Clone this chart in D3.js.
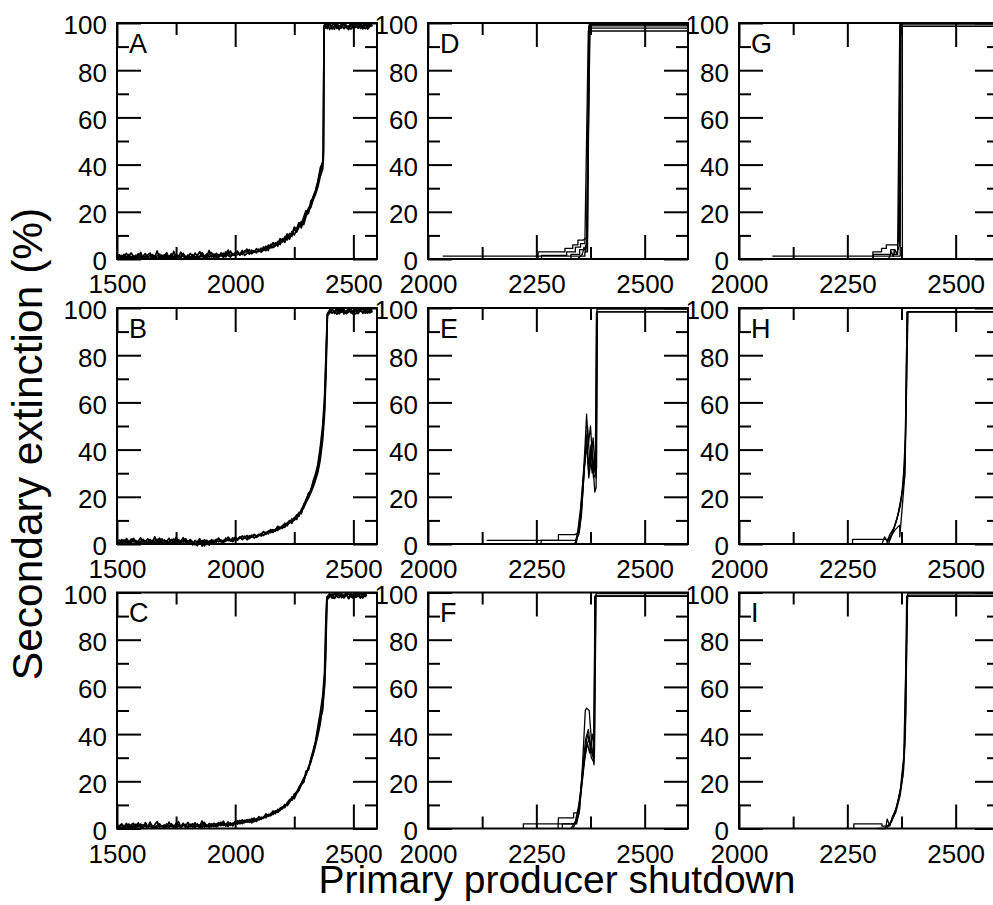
<!DOCTYPE html>
<html>
<head>
<meta charset="utf-8">
<script src="https://cdn.jsdelivr.net/npm/d3@7"></script>
<style>
  body { margin: 0; background: #fff; }
  text { font-family: "Liberation Sans", Arial, Helvetica, sans-serif; }
</style>
</head>
<body>
<div id="chart-area"></div>
<script>
const WIDTH = 993
const HEIGHT = 905
const COLS = [117, 428, 739]   // left edge of each column of panels
const ROWS = [23, 308, 592.5]  // top edge of each row of panels
const PW = 260
const PH = 236
const FONT = "'Liberation Sans', Arial, Helvetica, sans-serif"

// ---------- data ----------
const yMajor = [0, 20, 40, 60, 80, 100]
const yMinor = [10, 30, 50, 70, 90]

// shared x grid for the low (noisy) part of panels A-C
const lowXs = [1500,1510,1520,1530,1540,1550,1560,1570,1580,1590,
               1600,1610,1620,1630,1640,1650,1660,1670,1680,1690,
               1700,1710,1720,1730,1740,1750,1760,1770,1780,1790,
               1800,1810,1820,1830,1840,1850,1860,1870,1880,1890,
               1900,1910,1920,1930,1940,1950,1960,1970,1980,1990,
               2000,2010,2020,2030,2040,2050,2060,2070,2080,2090,
               2100,2110,2120,2130,2140,2150,2160,2170,2180,2190,
               2200,2210,2220,2230,2240,2250,2260,2270,2280,2290,
               2300,2310,2320,2330,2340,2350,2360]
const tailXsA = [2370,2373,2376,
                 2380,2390,2400,2410,2420,2430,2440,2450,2460,2470,
                 2480,2490,2500,2510,2520,2530,2540,2550,2560,2570,2580]
const tailXsB = [2370,2378,2384,2390,
                 2400,2410,2420,2430,2440,2450,2460,2470,2480,2490,
                 2500,2510,2520,2530,2540,2550,2560,2570,2580]
const tailXsC = [2370,2378,2383,2388,
                 2400,2410,2420,2430,2440,2450,2460,2470,2480,2490,
                 2500,2510,2520,2530,2540,2550,2556]

const runsA = [
  [0.6,1.8,0.2,1.1,2.4,0.4,0.9,0.1,1.6,0.5,
   2.8,0.3,1.2,0.7,0.0,1.9,0.8,3.4,0.4,1.0,
   0.2,1.5,0.9,2.2,0.3,1.1,0.6,2.9,1.0,0.4,
   1.7,0.8,0.2,2.5,1.3,0.6,1.9,0.3,1.2,3.6,
   0.9,2.1,1.4,0.5,2.6,1.1,3.0,1.6,0.8,2.3,
   1.4,2.9,1.9,3.6,1.5,2.4,4.0,2.2,3.1,2.6,
   4.2,2.9,3.8,5.4,3.6,6.2,4.8,5.6,7.4,6.1,
   8.6,7.0,9.8,8.4,11.6,10.2,12.4,14.8,13.2,16.5,
   19,21.5,23,26.5,29,32.5,37,
   40,44,98,
   99.4,97.6,99.8,98.2,97.4,99.6,98.8,97.9,100,98.4,
   97.2,99.3,98.6,99.9,97.8,98.9,97.5,99.5,98.2,99.7,98.6],
  [1.4,0.3,0.8,2.0,0.5,1.2,2.6,0.7,0.2,1.5,
   0.6,1.1,2.3,0.4,1.6,0.9,0.3,1.3,2.1,0.6,
   1.8,0.5,1.2,0.2,3.2,0.8,1.5,0.4,1.9,1.1,
   0.5,2.4,1.0,0.7,1.5,3.1,0.9,1.4,0.6,1.8,
   2.7,1.2,0.8,1.9,1.3,2.5,0.9,2.2,3.3,1.5,
   2.6,1.8,2.3,1.9,3.4,2.8,2.1,3.7,2.9,4.4,
   3.1,4.6,4.0,3.5,5.9,4.7,5.2,6.8,5.5,7.9,
   7.2,9.4,8.1,10.8,9.6,12.9,11.4,13.6,15.9,14.6,
   18.2,20.4,21.8,25.2,27.4,30.6,35,
   38,42,97.5,
   98.6,99.7,97.3,98.9,99.8,97.7,98.4,99.5,97.6,99.1,
   98.0,97.4,99.6,98.7,97.9,99.8,98.3,97.6,99.2,98.8,99.4],
  [0.2,0.9,1.5,0.4,0.8,1.9,0.3,1.4,0.6,2.2,
   1.0,0.5,0.1,1.7,2.5,0.6,1.4,0.2,0.9,1.6,
   0.7,2.7,0.4,1.3,0.9,2.0,0.3,1.2,2.4,0.6,
   1.1,0.3,1.8,0.9,0.4,1.2,2.7,1.0,2.1,0.7,
   1.5,0.6,2.4,1.2,1.8,0.7,1.9,3.8,1.3,1.7,
   2.0,3.3,1.6,2.5,2.9,4.2,2.4,2.7,3.5,3.0,
   3.6,3.2,5.1,4.4,4.9,5.3,6.9,5.9,6.4,8.6,
   7.8,8.5,10.6,9.3,10.4,13.5,12.8,15.4,14.2,17.8,
   20.5,19.2,24.6,26,28.8,33,38.5,
   41,46,99,
   97.8,98.5,99.9,97.5,98.7,99.3,97.2,98.8,99.6,97.9,
   98.6,99.8,97.6,98.3,99.5,97.7,98.9,99.7,97.4,98.5,99.0]
]

const runsB = [
  [0.4,1.6,0.9,0.2,2.3,1.1,0.5,1.8,0.3,1.2,
   2.6,0.7,1.4,0.1,1.9,0.8,3.0,0.6,1.3,0.2,
   1.7,0.9,2.4,0.4,1.1,0.0,1.8,1.2,2.7,0.5,
   1.3,0.6,-0.4,1.5,0.8,2.2,-0.9,0.7,1.6,-0.5,
   1.1,0.3,2.0,0.9,1.7,0.6,2.5,1.4,1.9,1.0,
   2.4,1.6,2.9,2.1,3.3,1.8,2.7,3.8,2.5,3.2,
   4.1,3.4,3.9,5.0,4.3,5.6,4.9,6.3,5.7,7.1,
   6.6,8.2,7.7,9.5,8.8,11.2,10.4,12.9,13.8,15.3,
   17.6,19.5,21.8,24.2,27.1,30.5,35.8,
   44,55,71,97,
   98.6,99.8,97.7,99.1,98.2,100,97.5,98.9,99.6,97.9,
   98.4,99.7,97.6,99.2,98.1,99.5,97.8,98.8,99.4],
  [1.2,0.3,0.8,1.7,0.5,0.1,1.4,2.4,0.7,1.0,
   0.4,1.8,0.9,2.2,0.6,1.5,0.2,1.1,2.5,0.8,
   1.4,0.3,0.9,1.9,0.6,2.8,0.4,1.3,0.8,1.6,
   0.2,1.9,0.9,0.3,-0.7,1.2,0.5,1.8,-0.2,1.3,
   0.5,1.6,0.8,2.3,1.3,0.7,1.8,2.1,1.2,2.6,
   1.7,2.2,3.0,1.9,2.6,3.6,2.3,3.0,3.9,2.8,
   3.5,4.5,3.7,4.6,5.5,4.8,6.1,5.4,6.9,6.4,
   7.9,7.1,8.9,9.9,9.4,10.7,12.3,11.8,14.6,16.2,
   18.9,20.8,23.1,25.6,28.4,32.4,38.5,
   47,58,76,96.7,
   97.9,99.3,98.5,97.4,99.7,98.2,99.0,97.6,99.8,98.4,
   97.3,99.1,98.7,99.9,97.7,98.5,99.3,97.9,98.9],
  [0.8,0.1,1.9,0.6,1.3,0.4,2.1,0.9,1.5,0.3,
   1.1,2.0,0.4,0.8,1.6,0.3,1.2,1.9,0.5,2.2,
   0.6,1.3,0.2,1.6,2.1,0.7,1.0,0.3,1.5,2.3,
   0.9,1.4,0.5,-0.3,1.1,0.2,1.5,-0.8,0.9,0.4,
   1.8,0.9,1.3,2.5,0.8,1.6,1.1,2.9,1.7,1.4,
   2.9,2.0,2.5,3.4,2.7,2.2,3.5,2.9,4.1,3.4,
   3.9,4.2,5.3,4.1,5.0,6.1,5.5,5.8,7.5,6.8,
   7.4,8.8,8.3,9.1,10.6,10.0,11.7,13.4,12.9,16.8,
   18.1,21.5,22.4,26.7,29.6,33.8,41,
   50,62,80,97.6,
   99.2,97.8,98.6,99.9,97.5,98.8,99.4,97.7,98.3,99.6,
   98.0,97.5,99.3,98.6,99.8,97.8,98.5,99.5,98.1]
]

const runsC = [
  [0.9,0.2,1.5,0.6,2.2,0.4,1.1,0.3,1.8,0.7,
   1.3,0.1,2.5,0.8,1.0,0.4,1.7,2.9,0.6,1.2,
   0.3,1.9,0.8,1.4,0.2,2.3,1.0,0.5,1.6,0.9,
   2.6,0.7,1.3,0.4,1.9,0.9,3.2,0.6,1.4,1.0,
   0.8,2.2,1.5,1.1,2.7,1.3,1.9,0.9,2.4,1.6,
   3.0,1.9,2.6,2.2,3.5,2.7,3.9,2.4,3.3,4.1,
   3.6,4.8,4.3,5.7,5.1,6.4,5.9,7.2,6.8,8.0,
   8.4,9.6,10.3,11.5,12.9,13.7,15.6,16.8,18.4,20.1,
   23.5,25.2,28.9,31.4,35.3,39.6,44.5,
   52,60,72,97.4,
   98.9,97.6,99.7,98.3,97.8,99.5,98.6,99.9,97.5,98.8,
   99.3,97.9,98.5,99.8,97.7,99.1,98.4],
  [1.5,0.6,0.2,1.2,0.8,1.9,0.3,1.4,0.7,2.4,
   0.5,1.6,0.9,0.2,1.8,1.1,0.4,1.3,2.0,0.7,
   1.5,0.6,2.7,0.9,1.2,0.4,1.7,0.8,2.2,0.5,
   1.1,1.8,0.6,2.4,1.0,1.5,0.5,1.9,0.8,2.1,
   1.4,0.9,1.8,2.5,1.2,2.0,1.5,2.8,1.3,2.3,
   2.2,2.8,3.4,2.1,2.9,3.8,2.6,3.2,4.4,3.0,
   4.2,3.9,5.0,4.6,6.0,5.4,6.6,7.5,7.0,8.6,
   9.1,8.8,10.9,12.2,12.0,14.6,15.1,17.5,19.2,21.4,
   22.8,26.1,27.9,32.2,36.4,41.2,46.5,
   50,62,79,96.9,
   98.2,99.4,97.5,98.9,99.8,97.8,98.6,99.2,97.4,99.6,
   98.0,98.7,99.9,97.6,98.4,99.3,98.8],
  [0.3,1.1,2.0,0.5,0.9,0.1,1.6,2.2,0.4,1.0,
   1.9,0.8,1.3,0.5,2.7,0.6,1.1,0.3,1.5,0.9,
   0.7,1.2,0.4,2.0,0.9,1.6,2.9,0.6,1.3,1.8,
   0.4,1.2,2.1,0.8,1.5,0.3,1.7,2.6,1.1,0.6,
   2.0,1.2,0.7,1.9,1.4,3.1,1.0,1.7,2.1,1.1,
   2.6,3.3,2.0,3.7,2.5,3.1,2.8,4.3,2.9,3.7,
   5.0,4.1,4.6,6.2,5.3,5.8,7.4,6.3,8.1,7.6,
   8.8,10.2,9.7,11.0,13.4,12.6,14.9,16.1,18.9,19.6,
   24.4,24.8,29.6,33.1,37,43.2,49,
   56,66,86,98.1,
   99.5,98.0,97.6,99.8,98.5,99.1,97.7,98.9,99.6,98.2,
   97.5,99.4,98.6,97.9,99.7,98.3,99.0]
]

// step-like runs, [shutdown, extinction %]
const runsD = [
  [[2034,1.2],[2362,1.2],[2362,3],[2368,3],[2372,99.3],[2600,99.3]],
  [[2240,0],[2254,0],[2254,3],[2316,3],[2316,4.5],[2334,4.5],[2334,6],[2346,6],[2346,8],[2358,8],[2366,9],[2374,97.8],[2600,97.8]],
  [[2250,0],[2262,0],[2262,1.5],[2320,1.5],[2320,3],[2340,3],[2340,5],[2352,5],[2352,6.5],[2362,6.5],[2370,96.6],[2600,96.6]],
  [[2300,0],[2330,0],[2330,2],[2350,2],[2350,4],[2362,4],[2366,7],[2371,98.8],[2600,98.8]],
  [[2345,0],[2356,2],[2360,5],[2364,3],[2368,9],[2373,99.3],[2600,99.3]]
]
const runsG = [
  [[2077,1.2],[2372,1.2],[2374,98.6],[2600,98.6]],
  [[2300,0],[2309,0],[2309,3],[2329,3],[2329,4.5],[2340,4.5],[2340,6],[2366,6],[2368,8],[2372,98.6],[2600,98.6]],
  [[2270,0],[2310,0],[2310,2],[2350,2],[2350,4],[2358,4],[2358,2],[2366,2],[2371,99.6],[2600,99.6]],
  [[2340,0],[2377,0],[2377,98.6],[2600,98.6]],
  [[2345,0],[2352,3],[2356,1],[2360,4],[2364,2],[2370,6],[2373,99.6],[2600,99.6]]
]
const runsE = [
  [[2135,1.5],[2340,1.5],[2344,3],[2350,8],[2356,22],[2362,40],[2366,55],[2370,42],[2375,50],[2380,35],[2385,22],[2388,24],[2390,98.4],[2600,98.4]],
  [[2260,0],[2262,1.5],[2301,1.5],[2301,4],[2339,4],[2349,5],[2355,16],[2361,32],[2366,46],[2371,30],[2376,42],[2382,28],[2387,30],[2389,98.4],[2600,98.4]],
  [[2335,0],[2340,0],[2346,6],[2352,15],[2358,28],[2364,38],[2368,50],[2373,36],[2378,40],[2383,33],[2388,28],[2390,99.5],[2600,99.5]],
  [[2338,0],[2348,4],[2354,12],[2360,30],[2365,45],[2369,34],[2374,38],[2379,30],[2384,35],[2389,32],[2391,98.4]],
  [[2342,0],[2350,9],[2356,20],[2362,36],[2367,42],[2371,28],[2376,35],[2381,45],[2386,30],[2389,98.4]]
]
const runsH = [
  [[2262,0],[2262,2],[2345,2],[2352,4],[2362,9],[2372,16],[2382,28],[2386,60],[2389,98.4],[2600,98.4]],
  [[2318,0],[2330,0],[2336,3],[2342,1],[2348,4],[2358,7],[2368,13],[2378,24],[2384,45],[2388,98.4],[2600,98.4]],
  [[2340,0],[2350,3],[2360,6],[2371,8],[2371,3],[2376,14],[2383,30],[2387,70],[2390,98.4],[2600,98.4]],
  [[2345,0],[2355,5],[2365,11],[2375,20],[2383,35],[2388,98.4]]
]
const runsF = [
  [[2220,0],[2220,2],[2343,2],[2350,8],[2356,25],[2363,50],[2366,51],[2372,50],[2378,35],[2383,27],[2385,98.5],[2600,98.5]],
  [[2300,0],[2301,4.5],[2336,4.5],[2336,6.6],[2347,6.6],[2352,15],[2358,28],[2364,38],[2370,42],[2376,33],[2382,30],[2386,98.5],[2600,98.5]],
  [[2330,0],[2340,3],[2348,10],[2355,20],[2362,32],[2368,40],[2374,36],[2380,32],[2384,30],[2387,98.5],[2600,98.5]],
  [[2335,0],[2345,5],[2352,14],[2359,26],[2366,35],[2372,38],[2377,30],[2383,28],[2386,98.5]],
  [[2310,0],[2310,2],[2340,2],[2348,6],[2355,18],[2362,30],[2368,36],[2373,32],[2379,40],[2384,33],[2388,99.5],[2600,99.5]]
]
const runsI = [
  [[2265,0],[2265,2],[2330,2],[2330,1],[2345,1],[2352,3],[2362,7],[2372,14],[2380,25],[2385,50],[2388,98.5],[2600,98.5]],
  [[2320,0],[2338,0],[2342,4],[2348,1],[2354,5],[2364,9],[2374,18],[2382,32],[2387,98.5],[2600,98.5]],
  [[2335,0],[2348,2],[2358,6],[2368,12],[2378,22],[2384,40],[2389,98.5],[2600,98.5]],
  [[2340,0],[2352,3],[2362,8],[2372,16],[2380,30],[2386,75],[2389,99.4],[2600,99.4]]
]

// turn the noisy value lists into point lists
const toPoints = (xs, runs) => runs.map(r => r.map((v, i) => [xs[i], v]))

const wideTicks = { domain: [1500, 2600], major: [1500, 2000, 2500], minor: [1750, 2250], lw: 1.7 }
const narrowTicks = { domain: [2000, 2600], major: [2000, 2250, 2500], minor: [2125, 2375], lw: 1.3 }

const panels = [
  { id: "A", col: 0, row: 0, ...wideTicks, runs: toPoints(lowXs.concat(tailXsA), runsA) },
  { id: "B", col: 0, row: 1, ...wideTicks, runs: toPoints(lowXs.concat(tailXsB), runsB) },
  { id: "C", col: 0, row: 2, ...wideTicks, runs: toPoints(lowXs.concat(tailXsC), runsC) },
  { id: "D", col: 1, row: 0, ...narrowTicks, runs: runsD },
  { id: "E", col: 1, row: 1, ...narrowTicks, runs: runsE },
  { id: "F", col: 1, row: 2, ...narrowTicks, runs: runsF },
  { id: "G", col: 2, row: 0, ...narrowTicks, runs: runsG },
  { id: "H", col: 2, row: 1, ...narrowTicks, runs: runsH },
  { id: "I", col: 2, row: 2, ...narrowTicks, runs: runsI }
]

// ---------- drawing ----------
const svg = d3.select("#chart-area").append("svg")
  .attr("width", WIDTH)
  .attr("height", HEIGHT)

const y = d3.scaleLinear().domain([0, 100]).range([PH, 0])

function styleAxis(sel) {
  sel.select(".domain").remove()
  sel.attr("font-size", 26).attr("font-family", FONT)
  sel.selectAll("line").attr("stroke", "#000").attr("stroke-width", 2)
  sel.selectAll("text").attr("fill", "#000")
}

panels.forEach(p => {
  const x = d3.scaleLinear().domain(p.domain).range([0, PW])
  const g = svg.append("g")
    .attr("transform", `translate(${COLS[p.col]}, ${ROWS[p.row]})`)

  // major ticks with labels (bottom, left) and bare ticks (top, right)
  g.append("g")
    .attr("transform", `translate(0, ${PH})`)
    .call(d3.axisBottom(x).tickValues(p.major).tickFormat(d3.format("d"))
      .tickSize(-24).tickSizeOuter(0).tickPadding(16))
    .call(styleAxis)
  g.append("g")
    .call(d3.axisLeft(y).tickValues(yMajor).tickSize(-24).tickSizeOuter(0).tickPadding(10))
    .call(styleAxis)
    .selectAll("text").attr("dy", "0.42em")
  g.append("g")
    .call(d3.axisTop(x).tickValues(p.major).tickSize(-24).tickSizeOuter(0).tickFormat(""))
    .call(styleAxis)
  g.append("g")
    .attr("transform", `translate(${PW}, 0)`)
    .call(d3.axisRight(y).tickValues(yMajor).tickSize(-24).tickSizeOuter(0).tickFormat(""))
    .call(styleAxis)

  // minor ticks on all four sides
  g.append("g").attr("transform", `translate(0, ${PH})`)
    .call(d3.axisBottom(x).tickValues(p.minor).tickSize(-12).tickSizeOuter(0).tickFormat(""))
    .call(styleAxis)
  g.append("g")
    .call(d3.axisTop(x).tickValues(p.minor).tickSize(-12).tickSizeOuter(0).tickFormat(""))
    .call(styleAxis)
  g.append("g")
    .call(d3.axisLeft(y).tickValues(yMinor).tickSize(-12).tickSizeOuter(0).tickFormat(""))
    .call(styleAxis)
  g.append("g").attr("transform", `translate(${PW}, 0)`)
    .call(d3.axisRight(y).tickValues(yMinor).tickSize(-12).tickSizeOuter(0).tickFormat(""))
    .call(styleAxis)

  // frame
  g.append("rect")
    .attr("width", PW)
    .attr("height", PH)
    .attr("fill", "none")
    .attr("stroke", "#000")
    .attr("stroke-width", 2)

  // runs
  const line = d3.line()
    .defined(d => d[1] != null)
    .x(d => x(d[0]))
    .y(d => y(d[1]))

  g.selectAll("path.run")
    .data(p.runs)
    .enter().append("path")
      .attr("class", "run")
      .attr("d", line)
      .attr("fill", "none")
      .attr("stroke", "#000")
      .attr("stroke-width", p.lw)
      .attr("stroke-linejoin", "round")

  // panel letter
  g.append("text")
    .attr("x", 12)
    .attr("y", 29.5)
    .attr("font-size", 27)
    .text(p.id)
})

// axis titles
svg.append("text")
  .attr("transform", "translate(42, 444) rotate(-90)")
  .attr("text-anchor", "middle")
  .attr("font-size", 42.5)
  .text("Secondary extinction (%)")

svg.append("text")
  .attr("x", 557)
  .attr("y", 893)
  .attr("text-anchor", "middle")
  .attr("font-size", 39)
  .text("Primary producer shutdown")
</script>
</body>
</html>
